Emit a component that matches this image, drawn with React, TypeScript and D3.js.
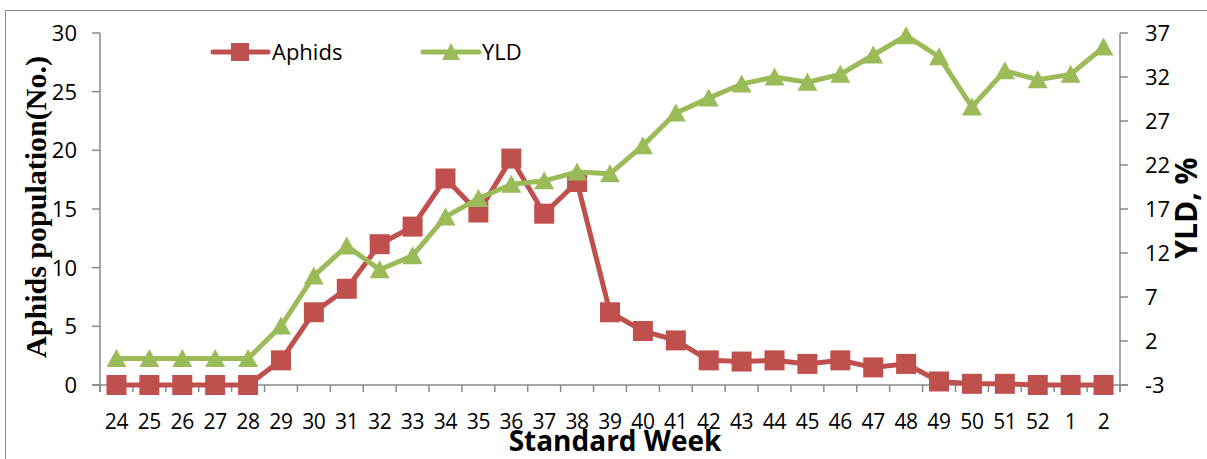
import { scaleBand, scaleLinear, line } from "d3";
import { FC } from "react";

// Standard weeks on the x axis
const weeks = [
  "24", "25", "26", "27", "28", "29", "30", "31", "32", "33", "34", "35", "36",
  "37", "38", "39", "40", "41", "42", "43", "44", "45", "46", "47", "48", "49",
  "50", "51", "52", "1", "2"
];

// Aphids population (No.) - left axis
const aphids = [
  0, 0, 0, 0, 0, 2.1, 6.2, 8.2, 12.0, 13.5, 17.6, 14.7, 19.3, 14.6, 17.3, 6.2,
  4.6, 3.8, 2.1, 2.0, 2.1, 1.8, 2.1, 1.5, 1.8, 0.3, 0.1, 0.1, 0, 0, 0
];

// YLD % - right axis
const yld = [
  0, 0, 0, 0, 0, 3.7, 9.4, 12.8, 10.1, 11.7, 16.1, 18.2, 19.8, 20.2, 21.2, 21.0,
  24.2, 27.9, 29.6, 31.2, 32.0, 31.4, 32.3, 34.5, 36.7, 34.3, 28.6, 32.7, 31.7,
  32.3, 35.4
];

const leftTicks = [0, 5, 10, 15, 20, 25, 30];
const rightTicks = [-3, 2, 7, 12, 17, 22, 27, 32, 37];

const RED = "#C0504D";
const GREEN = "#9BBB59";
const AXIS = "#898989";
const tickFont = "'Open Sans', sans-serif";

const W = 1207;
const H = 459;
const left = 100;
const right = 1120;
const top = 33;
const bottom = 385;

const triangle = "M0,-9.5L10,8.5L-10,8.5Z";

const App: FC = () => {
  const x = scaleBand<string>().domain(weeks).range([left, right]);
  const yL = scaleLinear().domain([0, 30]).range([bottom, top]);
  const yR = scaleLinear().domain([-3, 37]).range([bottom, top]);
  const cx = (w: string) => x(w)! + x.bandwidth() / 2;

  const aphidLine = line<number>()
    .x((_, i) => cx(weeks[i]))
    .y((d) => yL(d));
  const yldLine = line<number>()
    .x((_, i) => cx(weeks[i]))
    .y((d) => yR(d));

  const bounds = weeks.map((w) => x(w)!).concat([right]);

  return (
    <svg
      width={W}
      height={H}
      style={{ position: "absolute", left: 0, top: 0, background: "#fff" }}
    >
      <rect x={5.5} y={10.5} width={1300} height={600} fill="#fff" stroke={AXIS} />

      {/* left axis */}
      <line x1={left} x2={left} y1={top} y2={bottom + 7} stroke={AXIS} strokeWidth={1.5} />
      {leftTicks.map((t) => (
        <g key={"l" + t}>
          <line x1={left - 8} x2={left} y1={yL(t)} y2={yL(t)} stroke={AXIS} strokeWidth={1.5} />
          <text x={77} y={yL(t) + 8} textAnchor="end" fontFamily={tickFont} fontSize={22}>
            {t}
          </text>
        </g>
      ))}

      {/* right axis */}
      <line x1={right} x2={right} y1={top} y2={bottom + 7} stroke={AXIS} strokeWidth={1.5} />
      {rightTicks.map((t) => (
        <g key={"r" + t}>
          <line x1={right} x2={right + 8} y1={yR(t)} y2={yR(t)} stroke={AXIS} strokeWidth={1.5} />
          <text x={1145} y={yR(t) + 8} fontFamily={tickFont} fontSize={22}>
            {t}
          </text>
        </g>
      ))}

      {/* x axis */}
      <line x1={left - 8} x2={right + 8} y1={bottom} y2={bottom} stroke={AXIS} strokeWidth={1.5} />
      {bounds.map((b, i) => (
        <line key={"b" + i} x1={b} x2={b} y1={bottom} y2={bottom + 7} stroke={AXIS} strokeWidth={1.5} />
      ))}
      {weeks.map((w) => (
        <text
          key={"w" + w}
          x={cx(w)}
          y={429}
          textAnchor="middle"
          fontFamily={tickFont}
          fontSize={21}
          letterSpacing={-0.3}
        >
          {w}
        </text>
      ))}

      {/* series */}
      <path d={aphidLine(aphids)!} fill="none" stroke={RED} strokeWidth={5} />
      {aphids.map((d, i) => (
        <rect key={"a" + i} x={cx(weeks[i]) - 10} y={yL(d) - 10} width={20} height={20} fill={RED} />
      ))}
      <path d={yldLine(yld)!} fill="none" stroke={GREEN} strokeWidth={5} />
      {yld.map((d, i) => (
        <path key={"y" + i} d={triangle} transform={`translate(${cx(weeks[i])},${yR(d)})`} fill={GREEN} />
      ))}

      {/* legend */}
      <line x1={213} x2={268} y1={52} y2={52} stroke={RED} strokeWidth={5} strokeLinecap="round" />
      <rect x={231} y={43} width={18} height={18} fill={RED} />
      <text x={272} y={60} fontFamily={tickFont} fontSize={22}>Aphids</text>
      <line x1={423} x2={479} y1={52} y2={52} stroke={GREEN} strokeWidth={5} strokeLinecap="round" />
      <path d="M0,-9L9,8L-9,8Z" transform="translate(451,52)" fill={GREEN} />
      <text x={482} y={60} fontFamily={tickFont} fontSize={22}>YLD</text>

      {/* axis titles */}
      <text
        transform="translate(46,207) rotate(-90)"
        textAnchor="middle"
        fontFamily="'Liberation Serif', serif"
        fontWeight="bold"
        fontSize={30}
      >
        Aphids population(No.)
      </text>
      <text
        transform="translate(1197,208) rotate(-90)"
        textAnchor="middle"
        fontFamily={tickFont}
        fontWeight="bold"
        fontSize={30}
      >
        YLD, %
      </text>
      <text x={615} y={451} textAnchor="middle" fontFamily={tickFont} fontWeight="bold" fontSize={28}>
        Standard Week
      </text>
    </svg>
  );
};

export default App;
